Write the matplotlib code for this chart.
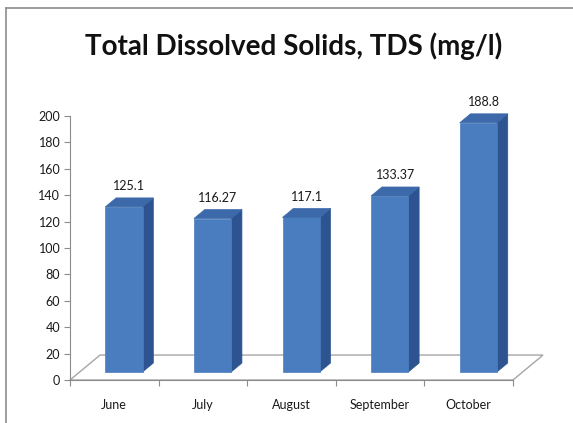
import matplotlib.pyplot as plt
from matplotlib.patches import Polygon
from matplotlib.lines import Line2D

plt.rcParams['font.family'] = ['Lato', 'DejaVu Sans']

months = ['June', 'July', 'August', 'September', 'October']
tds = [125.1, 116.27, 117.1, 133.37, 188.8]
label_text = ['125.1', '116.27', '117.1', '133.37', '188.8']
y_ticks = list(range(0, 201, 20))

W, H = 573, 423
fig = plt.figure(figsize=(W / 100, H / 100), dpi=100)
fig.patch.set_facecolor('white')

# outer chart border (top and left edges only)
bx, by = 5.5 / W, 1 - 8.5 / H
fig.add_artist(Line2D([bx, 1.0], [by, by], transform=fig.transFigure,
                      color='#8c8c8c', linewidth=1.2))
fig.add_artist(Line2D([bx, bx], [0.0, by], transform=fig.transFigure,
                      color='#8c8c8c', linewidth=1.2))

# plot area: value axis on the front-left edge of the floor
ax = fig.add_axes([70 / W, (H - 380) / H, 443 / W, 264 / H])
ax.set_xlim(-0.5, 4.5)
ax.set_ylim(0, 200)
ax.patch.set_alpha(0)

# floor depth (data units) and bar depth range as fractions of it
DX, DY = 0.339, 18.9
f0, f1 = 0.32, 0.68
hw = 0.21

floor = Polygon([(-0.5, 0), (4.5, 0), (4.5 + DX, DY), (-0.5 + DX, DY)],
                closed=True, facecolor='white', edgecolor='#a6a6a6',
                linewidth=1.0, clip_on=False, zorder=1)
ax.add_patch(floor)

front_c, side_c, top_c = '#4a7dbf', '#2d5490', '#3b69a9'
for i, v in enumerate(tds):
    x0 = i - hw + f0 * DX
    x1 = i + hw + f0 * DX
    y0 = f0 * DY
    ddx = (f1 - f0) * DX
    ddy = (f1 - f0) * DY
    front = [(x0, y0), (x1, y0), (x1, y0 + v), (x0, y0 + v)]
    side = [(x1, y0), (x1 + ddx, y0 + ddy), (x1 + ddx, y0 + ddy + v), (x1, y0 + v)]
    top = [(x0, y0 + v), (x1, y0 + v), (x1 + ddx, y0 + ddy + v), (x0 + ddx, y0 + ddy + v)]
    for pts, c in ((side, side_c), (front, front_c), (top, top_c)):
        ax.add_patch(Polygon(pts, closed=True, facecolor=c, edgecolor=c,
                             linewidth=0.5, clip_on=False, zorder=3))
    ax.annotate(label_text[i], xy=(i + (f0 + f1) / 2 * DX, y0 + ddy + v),
                xytext=(0, 4), textcoords='offset points', ha='center',
                va='bottom', fontsize=9, color='#1a1a1a', zorder=4,
                annotation_clip=False)

for side in ('top', 'right'):
    ax.spines[side].set_visible(False)
ax.spines['left'].set_color('#8c8c8c')
ax.spines['bottom'].set_color('#8c8c8c')
ax.spines['left'].set_zorder(2)

ax.set_yticks(y_ticks)
ax.tick_params(axis='y', direction='out', length=4, color='#8c8c8c',
               labelsize=9, labelcolor='#1a1a1a', pad=3)

# category boundaries as ticks, month names centred between them
ax.set_xticks([k - 0.5 for k in range(len(months) + 1)])
ax.set_xticklabels([])
ax.set_xticks(range(len(months)), minor=True)
ax.set_xticklabels(months, minor=True)
ax.tick_params(axis='x', which='major', direction='out', length=4, color='#8c8c8c')
ax.tick_params(axis='x', which='minor', length=0, labelsize=9,
               labelcolor='#1a1a1a', pad=14)

fig.text(294 / W, 1 - 46 / H, 'Total Dissolved Solids, TDS (mg/l)',
         ha='center', va='center', fontsize=20, fontweight='bold', color='#111111')

fig.savefig('out.png', dpi=100)
